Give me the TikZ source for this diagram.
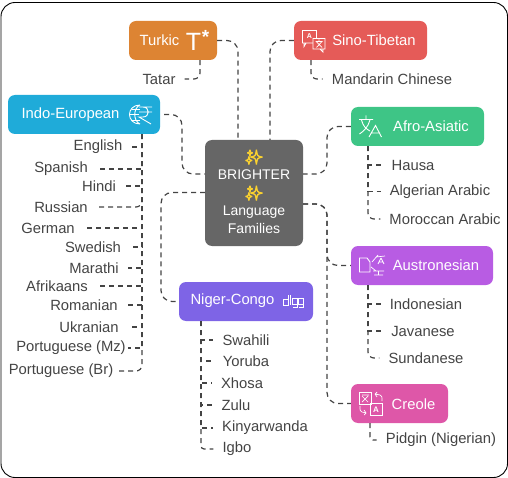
\documentclass[tikz,border=0pt]{standalone}
\usepackage{fontspec}
\setmainfont{Liberation Sans}
\newfontfamily\emojifont[FakeBold=5]{Noto Emoji}
\definecolor{colorturkic}{HTML}{DD8433}
\definecolor{colorsino}{HTML}{E55B58}
\definecolor{colorindo}{HTML}{1FABD9}
\definecolor{colorafro}{HTML}{3EC586}
\definecolor{colorniger}{HTML}{7E64E6}
\definecolor{coloraustro}{HTML}{B85CE3}
\definecolor{colorcreole}{HTML}{DE57A8}
\definecolor{colorcentre}{HTML}{666666}
\definecolor{colorleaf}{HTML}{444444}
\definecolor{colorspark}{HTML}{FBD22F}
\usetikzlibrary{calc}
\tikzset{%
    family/.style={%
        rounded corners=7pt, minimum height=39pt, inner sep=0
    },
    familytext/.style={%
        text=white, font=\fontsize{14.8}{16}\selectfont, inner sep=0
    },
    leaf/.style={%
        text=colorleaf, font=\fontsize{14.8}{16}\selectfont, inner ysep=0, inner xsep=9pt
    },
    link/.style={%
        draw=colorleaf, line width=1.2pt, dash pattern=on 5pt off 4pt, rounded corners=11pt
    },
    branch/.style={%
        draw=colorleaf, line width=1.2pt, dash pattern=on 5pt off 4pt
    },
    lastleaf/.style={%
        link, rounded corners=6pt
    },
    icon/.style={%
        draw=white, line width=0.9pt
    }
}
\newcommand{\sparkle}{{\emojifont\textcolor{colorspark}{✨}}}
\begin{document}
\begin{tikzpicture}[x=1pt, y=-1pt]
    \useasboundingbox (0,0) rectangle (508,478);
    \draw[black, line width=0.9pt, rounded corners=14pt] (1,2.5) rectangle (507.5,477.5);

    \node[family, fill=colorcentre, minimum width=98pt, minimum height=106pt] (brighter) at (254,193) {};
    \node[family, fill=colorturkic, minimum width=88pt] (turkic) at (173,40.5) {};
    \node[family, fill=colorsino, minimum width=133pt] (sino) at (360.5,40.5) {};
    \node[family, fill=colorindo, minimum width=152pt] (indo) at (84,114.5) {};
    \node[family, fill=colorafro, minimum width=133pt] (afro) at (417.5,126.5) {};
    \node[family, fill=colorniger, minimum width=134pt] (niger) at (246,301.5) {};
    \node[family, fill=coloraustro, minimum width=142pt] (austro) at (422,265.5) {};
    \node[family, fill=colorcreole, minimum width=97pt] (creole) at (399.5,403.5) {};

    \node[familytext, text width=98pt, align=center, font=\fontsize{14}{18}\selectfont] (brightertext) at (254,192) {\sparkle\\BRIGHTER\\\sparkle\\Language\\Families};
    \node[familytext] (turkictext) at (159.5,40) {Turkic};
    \node[familytext] (sinotext) at (374,40.5) {Sino-Tibetan};
    \node[familytext] (indotext) at (70.5,115) {Indo-European};
    \node[familytext] (afrotext) at (431,126.5) {Afro-Asiatic};
    \node[familytext] (nigertext) at (232.5,301) {Niger-Congo};
    \node[familytext] (austrotext) at (436,265) {Austronesian};
    \node[familytext] (creoletext) at (413.5,404) {Creole};

    \node[leaf] (tatar) at (159,79) {Tatar};
    \node[leaf] (mandarin) at (392,79) {Mandarin Chinese};

    \node[leaf] (hausa) at (413,165) {Hausa};
    \node[leaf] (algerian) at (440,191.5) {Algerian Arabic};
    \node[leaf] (moroccan) at (445,219) {Moroccan Arabic};

    \node[leaf] (english) at (98,147) {English};
    \node[leaf] (spanish) at (61,169) {Spanish};
    \node[leaf] (hindi) at (99,186) {Hindi};
    \node[leaf] (russian) at (61,207) {Russian};
    \node[leaf] (german) at (48,228) {German};
    \node[leaf] (swedish) at (93,247) {Swedish};
    \node[leaf] (marathi) at (94,268) {Marathi};
    \node[leaf] (afrikaans) at (57,286) {Afrikaans};
    \node[leaf] (romanian) at (84,305) {Romanian};
    \node[leaf] (ukranian) at (89,327) {Ukranian};
    \node[leaf, inner xsep=2pt] (portmz) at (71,348) {Portuguese (Mz)};
    \node[leaf, inner xsep=2pt] (portbr) at (61,371) {Portuguese (Br)};

    \node[leaf] (swahili) at (246,340) {Swahili};
    \node[leaf] (yoruba) at (246,361) {Yoruba};
    \node[leaf] (xhosa) at (242,383) {Xhosa};
    \node[leaf] (zulu) at (236,405) {Zulu};
    \node[leaf] (kinyarwanda) at (265,428) {Kinyarwanda};
    \node[leaf] (igbo) at (237,449) {Igbo};

    \node[leaf] (indonesian) at (426,304) {Indonesian};
    \node[leaf] (javanese) at (423,331) {Javanese};
    \node[leaf] (sundanese) at (426,358) {Sundanese};
    \node[leaf] (pidgin) at (441,440) {Pidgin (Nigerian)};

    % links from the centre
    \coordinate (brighterw) at (205,174);
    \coordinate (brighterv) at (205,192.5);
    \coordinate (brightere) at (303,174);
    \coordinate (brighters) at (303,204);
    \draw[link] (turkic.east) -| (brighter.north -| 238,0);
    \draw[link] (sino.west) -| (brighter.north -| 270,0);
    \draw[link] ([xshift=4pt]indo.east) -| (182,144) |- (brighterw);
    \draw[link] (afro.west) -| (327,150) |- (brightere);
    \draw[link] (brighterv) -| (161,250) |- (niger.west);
    \draw[link] (brighters) -| (327,235) |- (austro.west);
    \draw[link] (brighters) -| (327,300) |- (creole.west);

    % leaves
    \draw[lastleaf] (turkic.south -| 200,0) |- (tatar.east);
    \draw[lastleaf] (sino.south -| 311,0) |- (mandarin.west);
    \foreach \leafname in {english,spanish,hindi,german,swedish,marathi,afrikaans,romanian,ukranian,portmz}
        \draw[branch] (indo.south -| 142,0) |- (\leafname.east);
    \draw[lastleaf] (indo.south -| 142,0) |- (russian.east);
    \draw[lastleaf] (indo.south -| 142,0) |- (portbr.east);
    \foreach \leafname in {hausa,algerian}
        \draw[branch] (afro.south -| 368,0) |- (\leafname.west);
    \draw[lastleaf] (afro.south -| 368,0) |- (moroccan.west);
    \foreach \leafname in {swahili,yoruba,xhosa,zulu,kinyarwanda}
        \draw[branch] (niger.south -| 201,0) |- (\leafname.west);
    \draw[lastleaf, rounded corners=3pt] (niger.south -| 201,0) |- (igbo.west);
    \foreach \leafname in {indonesian,javanese}
        \draw[branch] (austro.south -| 368,0) |- (\leafname.west);
    \draw[lastleaf] (austro.south -| 368,0) |- (sundanese.west);
    \draw[lastleaf, rounded corners=3pt] (creole.south -| 370,0) |- (pidgin.west);

    % icons
    \node[text=white, font=\fontsize{25}{25}\selectfont, inner sep=0] (turkicicon) at (193.5,42) {T};
    \node[text=white, font=\bfseries\fontsize{19}{19}\selectfont, inner sep=0] (turkicstar) at (205.5,37) {*};

    \draw[icon] (302.5,30.5) rectangle (316.5,43) (306,43) -- (304,46.5) -- (304,43);
    \node[text=white, font=\bfseries\fontsize{7}{7}\selectfont, inner sep=0] (sinoa) at (309.5,36.5) {A};
    \draw[icon, fill=colorsino] (313,38.5) rectangle (325,49) (320,49) -- (323,52) -- (323,49);
    \draw[icon, line width=0.7pt] (315.5,41.5) -- (322.5,41.5) (319,39.5) -- (319,41.5) (316.5,47.5) -- (321.5,42) (316.5,42) -- (322,47.5);

    \draw[icon] (130,114.5) -- (139,114.5) (132,109) -- (140,109) (132,120) -- (140,120);
    \draw[icon] (140,105) .. controls (126,105) and (126,124) .. (140,124) (140,105) .. controls (133,108) and (133,121) .. (140,124);
    \draw[icon] (139,107) -- (152,107) (139,112) -- (152,112) (143,107) .. controls (150,107) and (150,117) .. (143,117) -- (139,117) -- (151,124);

    \draw[icon] (359,119.5) -- (373,119.5) (366,115.5) -- (366,119.5) (370,120) .. controls (368,127) and (364,131) .. (359.5,134) (361.5,120) .. controls (363,126) and (366,129) .. (370,131);
    \draw[icon] (369,137) -- (375.5,125.5) -- (381.5,137) (371,133) -- (380,133);

    \draw[icon] (288,295) -- (288,305) -- (283,305) -- (283,299) -- (288,299) (290.5,295) -- (290.5,305);
    \draw[icon] (292.5,298) rectangle (297,304) (297,304) -- (297,307.5) -- (292.5,307.5) (298.5,298) rectangle (303.5,304) (303.5,304) -- (303.5,307.5) -- (298.5,307.5);

    \draw[icon] (370,272) -- (359.5,272) -- (359.5,258) -- (367,258) -- (370,262) -- cycle;
    \draw[icon, line width=0.7pt] (372,262) -- (378,255) (376,257) -- (385,256) (381,258) -- (378,264) (381,258) -- (384,264) (379,262) -- (383,262);
    \draw[icon, line width=0.7pt] (371,267) -- (376,271) (373,271) -- (384,271) (378.5,271) -- (378.5,275) (374,275) -- (383,275);

    \draw[icon] (359.5,392.5) rectangle (371,404.5) (370,403.5) rectangle (382,415.5);
    \draw[icon, line width=0.7pt] (362,395) -- (369,395) (362,402) -- (368,396) (362,396) -- (368,402);
    \node[text=white, font=\bfseries\fontsize{8}{8}\selectfont, inner sep=0] (creolea) at (376,410) {A};
    \draw[icon, line width=0.7pt] (375,394) -- (380,395) .. controls (382,396) .. (382,401) (375,394) -- (377,392) (375,394) -- (377,397);
    \draw[icon, line width=0.7pt] (366,413) -- (362,412) .. controls (360,411) .. (360,406) (366,413) -- (364,415) (366,413) -- (364,410);
\end{tikzpicture}
\end{document}
